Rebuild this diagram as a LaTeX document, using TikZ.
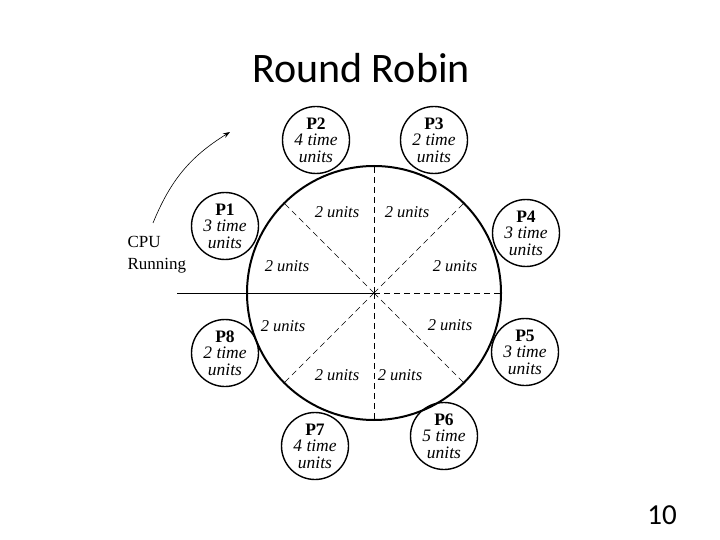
\documentclass[tikz,border=0pt]{standalone}
\usepackage{fontspec}
\setmainfont{Liberation Serif}
\newfontfamily\titlefont{Carlito}
\usetikzlibrary{arrows.meta}
\begin{document}
\begin{tikzpicture}[x=1pt,y=-1pt,
  proc/.style={circle,draw,line width=1.4pt,minimum size=67pt,inner sep=0pt,align=center,
    font=\fontsize{17.5}{16.5}\selectfont},
  spoke/.style={dashed,dash pattern=on 6pt off 4pt,line width=0.6pt},
  ulab/.style={font=\fontsize{16.5}{16}\selectfont\itshape,inner sep=1pt}]
\useasboundingbox (0,0) rectangle (720,540);
\node[font=\titlefont\fontsize{42}{46}\selectfont] (title) at (361,68) {Round Robin};
\node[font=\titlefont\fontsize{29}{32}\selectfont] (num) at (662,515) {10};
% big circle
\coordinate (c) at (374,293);
\draw[line width=2pt] (c) circle[radius=127];
\draw[line width=0.8pt] (177,293) -- (c);
\foreach \a in {0,45,90,135,225,270,315}
  \draw[spoke] (c) -- ++(\a:127);
% processes
\node[proc] (p1) at (225,226) {\textbf{P1}\\\textit{3 time}\\\textit{units}};
\node[proc] (p2) at (316,140) {\textbf{P2}\\\textit{4 time}\\\textit{units}};
\node[proc] (p3) at (434,140) {\textbf{P3}\\\textit{2 time}\\\textit{units}};
\node[proc] (p4) at (526,233) {\textbf{P4}\\\textit{3 time}\\\textit{units}};
\node[proc] (p5) at (525,352) {\textbf{P5}\\\textit{3 time}\\\textit{units}};
\node[proc] (p6) at (444,436) {\textbf{P6}\\\textit{5 time}\\\textit{units}};
\node[proc] (p7) at (315,446) {\textbf{P7}\\\textit{4 time}\\\textit{units}};
\node[proc] (p8) at (225,353) {\textbf{P8}\\\textit{2 time}\\\textit{units}};
% slice labels
\node[ulab] (u1) at (337,212) {2 units};
\node[ulab] (u2) at (407,212) {2 units};
\node[ulab] (u3) at (455,266) {2 units};
\node[ulab] (u4) at (287,266) {2 units};
\node[ulab] (u5) at (283,326) {2 units};
\node[ulab] (u6) at (450,325) {2 units};
\node[ulab] (u7) at (337,375) {2 units};
\node[ulab] (u8) at (400,375) {2 units};
% CPU running
\node[font=\fontsize{17}{22}\selectfont,align=left,anchor=west] (cpu) at (124,255) {CPU\\Running};
\coordinate (a1) at (153,223);
\coordinate (a2) at (230,132);
\draw[line width=0.6pt,-{Stealth[length=7pt,width=5pt]}] (a1) to[bend left=18] (a2);
\end{tikzpicture}
\end{document}
